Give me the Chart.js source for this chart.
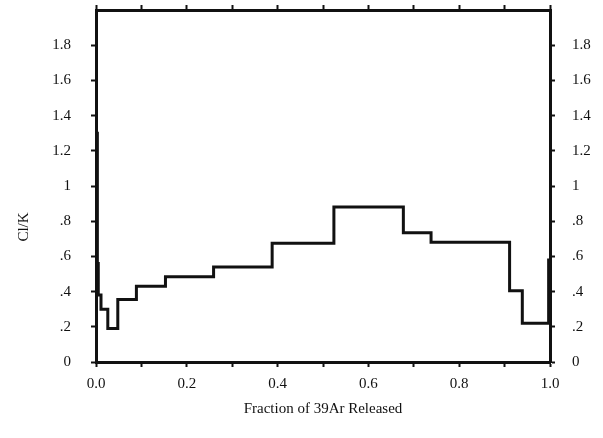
<!DOCTYPE html>
<html lang="en">
<head>
<meta charset="UTF-8">
<title>Cl/K vs Fraction of 39Ar Released</title>
<script src="https://cdn.jsdelivr.net/npm/chart.js"></script>
<style>
    html, body {
        margin: 0;
        padding: 0;
        background: #fff;
    }
    #wrap {
        width: 603px;
        height: 438px;
    }
</style>
</head>
<body>
<div id="wrap"><canvas id="clkChart" width="603" height="438"></canvas></div>
<script>
    // start of each heating step (fraction of 39Ar released) and its Cl/K
    const stepStart = [0, 0.001, 0.003, 0.005, 0.011, 0.026, 0.048, 0.089, 0.153, 0.259, 0.388, 0.524, 0.677, 0.738, 0.911, 0.939, 0.997];
    const clk = [1.98, 1.30, 0.56, 0.38, 0.30, 0.19, 0.355, 0.43, 0.485, 0.54, 0.675, 0.88, 0.735, 0.68, 0.405, 0.22, 0.58];
    const stepEnd = 1.0;

    const xTickLabels = ['0.0', '', '0.2', '', '0.4', '', '0.6', '', '0.8', '', '1.0'];
    // top value (2.0) has no label or tick, the frame closes there
    const yTickLabels = ['0', '.2', '.4', '.6', '.8', '1', '1.2', '1.4', '1.6', '1.8', null];
    const xTitle = 'Fraction of 39Ar Released';
    const yTitle = 'Cl/K';

    const ink = '#111';
    const serif = 'Liberation Serif';

    // staircase points: one per step start, plus the end of the last step
    const points = stepStart.map((x, i) => ({ x: x, y: clk[i] }));
    points.push({ x: stepEnd, y: clk[clk.length - 1] });

    // y axis label sits a bit below the middle in the original
    const yTitlePlugin = {
        id: 'yTitle',
        afterDraw(chart) {
            const ctx = chart.ctx;
            ctx.save();
            ctx.translate(24, 227);
            ctx.rotate(-Math.PI / 2);
            ctx.font = '15px "' + serif + '"';
            ctx.fillStyle = ink;
            ctx.textAlign = 'center';
            ctx.textBaseline = 'middle';
            ctx.fillText(yTitle, 0, 0);
            ctx.restore();
        }
    };

    function edgeAxis(extra) {
        return Object.assign({
            grid: { drawOnChartArea: false, tickLength: 5, tickWidth: 2, color: ink },
            border: { color: ink, width: 3 }
        }, extra);
    }

    // fixed side width, and no extra room above/below for the tick labels
    function sideFit(width) {
        return s => {
            s.width = width;
            s.paddingTop = 0;
            s.paddingBottom = 0;
        };
    }

    const tickFont = { family: serif, size: 15 };

    new Chart(document.getElementById('clkChart'), {
        type: 'line',
        data: {
            datasets: [{
                data: points,
                stepped: 'before',
                borderColor: ink,
                borderWidth: 3,
                pointRadius: 0,
                fill: false
            }]
        },
        options: {
            responsive: false,
            animation: false,
            layout: { padding: 0 },
            plugins: {
                legend: { display: false },
                tooltip: { enabled: false }
            },
            scales: {
                x: edgeAxis({
                    type: 'linear',
                    position: 'bottom',
                    min: 0,
                    max: 1,
                    ticks: {
                        stepSize: 0.1,
                        autoSkip: false,
                        maxRotation: 0,
                        padding: 8,
                        color: ink,
                        font: tickFont,
                        callback: (v, i) => xTickLabels[i]
                    },
                    title: {
                        display: true,
                        text: xTitle,
                        color: ink,
                        font: { family: serif, size: 15 },
                        padding: { top: 0, bottom: 20 }
                    },
                    afterFit: s => { s.height = 76; }
                }),
                xTop: edgeAxis({
                    type: 'linear',
                    position: 'top',
                    min: 0,
                    max: 1,
                    ticks: { stepSize: 0.1, display: false },
                    afterFit: s => { s.height = 10; }
                }),
                y: edgeAxis({
                    position: 'left',
                    min: 0,
                    max: 2,
                    ticks: {
                        stepSize: 0.2,
                        autoSkip: false,
                        padding: 20,
                        color: ink,
                        font: tickFont,
                        callback: (v, i) => yTickLabels[i]
                    },
                    afterFit: sideFit(96)
                }),
                yRight: edgeAxis({
                    position: 'right',
                    min: 0,
                    max: 2,
                    ticks: {
                        stepSize: 0.2,
                        autoSkip: false,
                        padding: 17,
                        color: ink,
                        font: tickFont,
                        callback: (v, i) => yTickLabels[i]
                    },
                    afterFit: sideFit(53)
                })
            }
        },
        plugins: [yTitlePlugin]
    });
</script>
</body>
</html>
